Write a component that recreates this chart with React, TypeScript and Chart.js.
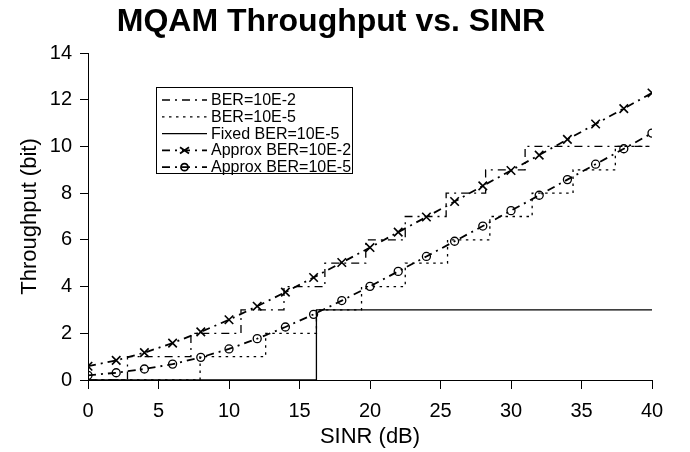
import React, { useEffect, useRef } from "react";
import { Chart, registerables } from "chart.js";

Chart.register(...registerables);

// SINR sample points (dB) for the approximation curves
const sinrPoints = [0, 2, 4, 6, 8, 10, 12, 14, 16, 18, 20, 22, 24, 26, 28, 30, 32, 34, 36, 38, 40];
const approxBer2 = [0.59, 0.84, 1.17, 1.58, 2.06, 2.58, 3.16, 3.76, 4.39, 5.03, 5.67, 6.33, 6.98, 7.64, 8.31, 8.97, 9.63, 10.3, 10.96, 11.62, 12.29];
const approxBer5 = [0.2, 0.31, 0.47, 0.68, 0.97, 1.33, 1.77, 2.27, 2.81, 3.4, 4.01, 4.65, 5.29, 5.94, 6.59, 7.25, 7.91, 8.58, 9.24, 9.9, 10.57];

// staircase (discrete MQAM) curves: SINR where the level starts, and the level
const ber2X = [0, 2.8, 7.3, 10.85, 13.9, 16.8, 19.7, 22.5, 25.4, 28.2, 31.0, 40];
const ber2Y = [0, 1, 2, 3, 4, 5, 6, 7, 8, 9, 10, 10];
const ber5X = [0, 7.95, 12.6, 16.2, 19.4, 22.5, 25.5, 28.5, 31.5, 34.4, 37.4, 40];
const ber5Y = [0, 1, 2, 3, 4, 5, 6, 7, 8, 9, 10, 10];
const fixedX = [0, 16.2, 40];
const fixedY = [0, 3, 3];

const labels = ["BER=10E-2", "BER=10E-5", "Fixed BER=10E-5", "Approx BER=10E-2", "Approx BER=10E-5"];
const xTicks = [0, 5, 10, 15, 20, 25, 30, 35, 40];
const yTicks = [0, 2, 4, 6, 8, 10, 12, 14];

const FONT = "'Liberation Sans', Arial, Helvetica, sans-serif";
const DASHDOT = [8, 5, 2, 5];
const DOTTED = [2.5, 4.5];

const zip = (xs: number[], ys: number[]) => xs.map((x, i) => ({ x, y: ys[i] }));

const legendPlugin = {
  id: "insideLegend",
  afterDraw(chart: any) {
    const ctx = chart.ctx;
    const left = 156.5, top = 87.5, right = 352.5, bottom = 173.5;
    ctx.save();
    ctx.fillStyle = "#fff";
    ctx.fillRect(left, top, right - left, bottom - top);
    ctx.strokeStyle = "#000";
    ctx.lineWidth = 1;
    ctx.setLineDash([]);
    ctx.strokeRect(left, top, right - left, bottom - top);
    ctx.font = "16px " + FONT;
    ctx.textBaseline = "middle";
    ctx.textAlign = "left";
    ctx.fillStyle = "#000";
    chart.data.datasets.forEach((ds: any, i: number) => {
      const y = 100 + i * 16.8;
      ctx.beginPath();
      ctx.setLineDash(ds.borderDash || []);
      ctx.lineWidth = ds.borderWidth;
      ctx.strokeStyle = "#000";
      ctx.moveTo(162, y);
      ctx.lineTo(207, y);
      ctx.stroke();
      ctx.setLineDash([]);
      const cx = 184.5;
      if (ds.pointStyle === "crossRot") {
        const r = 4.5;
        ctx.beginPath();
        ctx.moveTo(cx - r, y - r * 0.7);
        ctx.lineTo(cx + r, y + r * 0.7);
        ctx.moveTo(cx - r, y + r * 0.7);
        ctx.lineTo(cx + r, y - r * 0.7);
        ctx.stroke();
      } else if (ds.pointStyle === "circle" && ds.pointRadius > 0) {
        ctx.beginPath();
        ctx.arc(cx, y, 3.5, 0, Math.PI * 2);
        ctx.stroke();
      }
      ctx.fillText(ds.label, 211, y + 0.5);
    });
    ctx.restore();
  },
};

const titleShift = {
  id: "titleShift",
  afterLayout(chart: any) {
    if (chart.titleBlock) {
      chart.titleBlock.left = 10;
    }
  },
};

export default function App() {
  const ref = useRef<HTMLCanvasElement | null>(null);
  useEffect(() => {
    if (!ref.current) return;
    Chart.defaults.font.family = FONT;
    Chart.defaults.color = "#000";
    const chart = new Chart(ref.current, {
      type: "scatter",
      data: {
        datasets: [
          {
            label: labels[0],
            data: zip(ber2X, ber2Y),
            showLine: true,
            stepped: "before",
            borderColor: "#000",
            borderWidth: 1.3,
            borderDash: DASHDOT,
            pointRadius: 0,
            pointStyle: "line",
          },
          {
            label: labels[1],
            data: zip(ber5X, ber5Y),
            showLine: true,
            stepped: "before",
            borderColor: "#000",
            borderWidth: 1.3,
            borderDash: DOTTED,
            pointRadius: 0,
            pointStyle: "line",
          },
          {
            label: labels[2],
            data: zip(fixedX, fixedY),
            showLine: true,
            stepped: "before",
            borderColor: "#000",
            borderWidth: 1.3,
            borderDash: [],
            pointRadius: 0,
            pointStyle: "line",
          },
          {
            label: labels[3],
            data: zip(sinrPoints, approxBer2),
            showLine: true,
            borderColor: "#000",
            borderWidth: 1.8,
            borderDash: DASHDOT,
            pointStyle: "crossRot",
            pointRadius: 6,
            pointBorderWidth: 1.6,
            pointBorderColor: "#000",
            pointBackgroundColor: "#000",
          },
          {
            label: labels[4],
            data: zip(sinrPoints, approxBer5),
            showLine: true,
            borderColor: "#000",
            borderWidth: 1.8,
            borderDash: DASHDOT,
            pointStyle: "circle",
            pointRadius: 4,
            pointBorderWidth: 1.3,
            pointBorderColor: "#000",
            pointBackgroundColor: "rgba(0,0,0,0)",
          },
        ],
      },
      options: {
        responsive: false,
        animation: false,
        devicePixelRatio: 1,
        layout: { padding: { left: 0, right: 38, top: 0, bottom: 0 } },
        plugins: {
          legend: { display: false },
          tooltip: { enabled: false },
          title: {
            display: true,
            text: "MQAM Throughput vs. SINR",
            color: "#000",
            font: { size: 32, weight: "bold", family: FONT, lineHeight: 1.2 },
            padding: { top: 3, bottom: 11.6 },
          },
        },
        scales: {
          x: {
            type: "linear",
            min: 0,
            max: 40,
            afterFit: (s: any) => {
              s.height = 72;
            },
            afterBuildTicks: (s: any) => {
              s.ticks = xTicks.map((v) => ({ value: v }));
            },
            ticks: { font: { size: 20, family: FONT }, color: "#000", padding: 10 },
            grid: { display: true, drawOnChartArea: false, drawTicks: true, tickLength: 9, color: "#000", lineWidth: 1 },
            border: { display: true, color: "#000", width: 1 },
            title: {
              display: true,
              text: "SINR (dB)",
              color: "#000",
              font: { size: 22, family: FONT, lineHeight: 1.2 },
              padding: { top: 0, bottom: 2 },
            },
          },
          y: {
            type: "linear",
            min: 0,
            max: 14,
            afterFit: (s: any) => {
              s.width = 88;
            },
            afterBuildTicks: (s: any) => {
              s.ticks = yTicks.map((v) => ({ value: v }));
            },
            ticks: { font: { size: 20, family: FONT }, color: "#000", padding: 8 },
            grid: { display: true, drawOnChartArea: false, drawTicks: true, tickLength: 8, color: "#000", lineWidth: 1 },
            border: { display: true, color: "#000", width: 1 },
            title: {
              display: true,
              text: "Throughput (bit)",
              color: "#000",
              font: { size: 22, family: FONT, lineHeight: 1.2 },
              padding: { top: 17, bottom: 0 },
            },
          },
        },
      },
      plugins: [legendPlugin, titleShift],
    } as any);
    return () => chart.destroy();
  }, []);
  return (
    <div style={{ position: "absolute", left: 0, top: 0, width: 690, height: 452, background: "#fff" }}>
      <canvas ref={ref} width={690} height={452} style={{ display: "block", width: 690, height: 452 }} />
    </div>
  );
}
